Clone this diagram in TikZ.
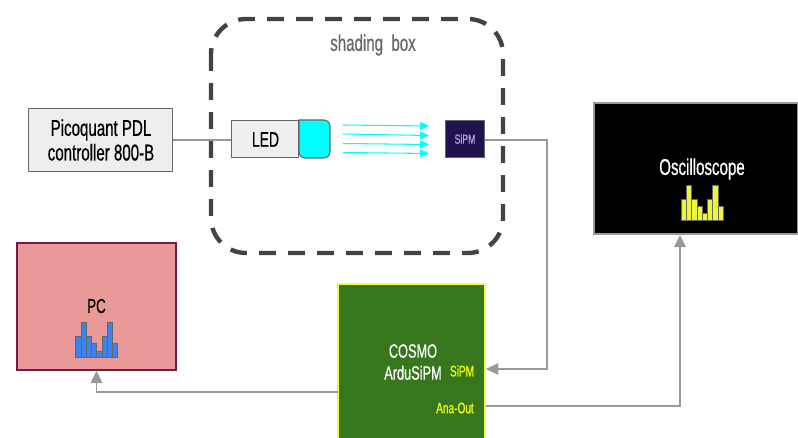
\documentclass[tikz,border=0pt]{standalone}
\usepackage{fontspec}
\setmainfont[FakeStretch=0.66,FakeBold=0.6]{Liberation Sans}
\usepackage{xcolor}
\usetikzlibrary{arrows.meta,positioning,calc}
\definecolor{wiregray}{RGB}{153,153,153}
\definecolor{boxedge}{RGB}{102,102,102}
\definecolor{shadegray}{RGB}{67,67,67}
\definecolor{ledgray}{RGB}{238,238,238}
\definecolor{raycyan}{RGB}{0,255,255}
\definecolor{sipmbg}{RGB}{32,18,77}
\definecolor{sipmtext}{RGB}{180,167,214}
\definecolor{pcbg}{RGB}{234,153,153}
\definecolor{pcedge}{RGB}{116,27,71}
\definecolor{cosmobg}{RGB}{56,118,29}
\definecolor{limeline}{RGB}{238,255,65}
\definecolor{porttext}{RGB}{238,255,0}
\definecolor{histblue}{RGB}{60,130,240}
\definecolor{histyellow}{RGB}{235,245,60}
\newcommand{\histo}[3]{% x, baseline y, fill colour
  \foreach \n/\h in {0/21,1/35,2/21,3/14,4/6.5,5/21,6/35,7/14}
    \draw[#3] ({#1+\n*5.25},#2) rectangle ({#1+(\n+1)*5.25},{#2-\h});
}
\tikzset{
  wire/.style={draw=wiregray,line width=1.1pt},
  wirearrow/.style={wire,-{Triangle[length=7pt,width=6.5pt]}},
  beam/.style={draw=raycyan,line width=0.6pt,-{Triangle[length=5pt,width=4.5pt]}},
  plainbox/.style={draw=boxedge,line width=0.6pt,inner sep=0pt,align=center},
  labeltext/.style={font=\fontsize{13}{14}\selectfont,align=center,inner sep=0pt}
}

\begin{document}
\begin{tikzpicture}[x=0.02cm,y=-0.02cm,>=Stealth]
  \clip (0,0) rectangle (798,438);
  % shading box
  \draw[shadegray,line width=2.5pt,dash pattern=on 9.5pt off 7pt,rounded corners=20pt] (211,19) rectangle (503,253);
  \node[labeltext,text=boxedge,font=\fontsize{13}{14}\selectfont] (shadelabel) at (373,45) {shading\ \ box};
  % light source and detector
  \node[plainbox,fill=ledgray,minimum width=82pt,minimum height=36pt] (controller) at (100.5,140) {};
  \node[labeltext] (ctrltext) at (101,140) {Picoquant PDL\\controller 800-B};
  \node[plainbox,fill=ledgray,minimum width=38.5pt,minimum height=21.5pt] (led) at (265,139) {};
  \node[labeltext,font=\fontsize{12}{14}\selectfont] (ledtext) at (265.5,139.5) {LED};
  \draw[boxedge,fill=raycyan,line width=0.6pt,rounded corners=3.5pt] (299,120) -- (330,120) -- (330,158) -- (299,158) [sharp corners] -- cycle;
  \node[plainbox,fill=sipmbg,text=sipmtext,minimum width=22.5pt,minimum height=21.5pt,font=\fontsize{7.5}{9}\selectfont] (sipm) at (465,139) {SiPM};
  % light rays
  \foreach \i/\ya/\yb in {1/125/126,2/134/135.5,3/143.5/144.5,4/152.5/153.5} {
    \coordinate (rayA\i) at (343,\ya);
    \coordinate (rayB\i) at (429,\yb);
    \draw[beam] (rayA\i) -- (rayB\i);
  }
  % instruments
  \node[plainbox,draw=pcedge,line width=1.1pt,fill=pcbg,minimum width=91pt,minimum height=72pt] (pc) at (96.5,306.5) {};
  \node[labeltext,font=\fontsize{11.5}{14}\selectfont] (pctext) at (96.5,306) {PC};
  \histo{75.7}{357.7}{draw=boxedge,fill=histblue,line width=0.5pt}
  \node[plainbox,draw=wiregray,line width=1.1pt,fill=black,minimum width=116pt,minimum height=74.5pt] (scope) at (696,168.5) {};
  \node[labeltext,text=white] (scopetext) at (702,169) {Oscilloscope};
  \histo{681.3}{220.3}{draw=boxedge,fill=histyellow,line width=0.5pt}
  \node[plainbox,draw=limeline,line width=1.1pt,fill=cosmobg,minimum width=83.5pt,minimum height=100pt] (cosmo) at (411.5,372) {};
  \node[labeltext,text=white,font=\fontsize{11}{12.5}\selectfont] (cosmotext) at (413,362) {COSMO\\ArduSiPM};
  \node[labeltext,text=porttext,font=\fontsize{8.7}{10}\selectfont] (sipmport) at (462,371) {SiPM};
  \node[labeltext,text=porttext,font=\fontsize{8.7}{10}\selectfont] (anaout) at (455,408) {Ana-Out};
  % connections
  \coordinate (ledIn) at (led.west |- controller.east);
  \coordinate (sipmOut) at (485,140);
  \coordinate (cosmoIn) at (486,369);
  \coordinate (cosmoOut) at (486,406);
  \coordinate (cosmoLeft) at (338,392);
  \draw[wire] (controller.east) -- (ledIn);
  \draw[wirearrow] (sipmOut) -| (547,369) -- (cosmoIn);
  \draw[wirearrow] (cosmoOut) -| (scope.south -| 680,0);
  \draw[wirearrow] (cosmoLeft) -| (pc.south);
\end{tikzpicture}
\end{document}
